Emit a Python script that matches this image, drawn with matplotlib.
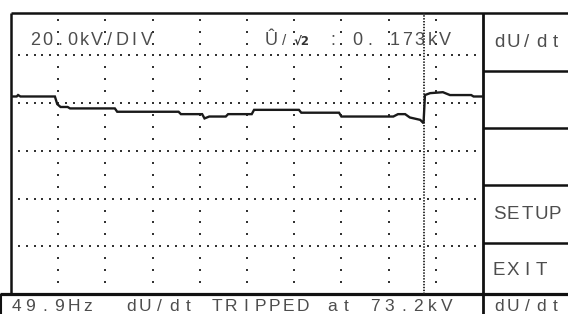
import numpy as np
import matplotlib
matplotlib.use("Agg")
import matplotlib.pyplot as plt

# Trace (x in divisions, y in divisions from the bottom)
trace_x = [0.0, 0.12, 0.15, 0.2, 0.93, 0.98, 1.05, 1.2, 1.25, 2.2, 2.25, 3.55, 3.6,
           4.05, 4.1, 4.2, 4.55, 4.6, 5.1, 5.15, 6.1, 6.15, 6.95, 7.0, 8.1, 8.2,
           8.35, 8.45, 8.67, 8.74, 8.77, 8.88, 9.15, 9.3, 9.75, 9.8, 10.0]
trace_y = [4.14, 4.14, 4.17, 4.14, 4.14, 3.98, 3.92, 3.92, 3.89, 3.89, 3.82, 3.82, 3.77,
           3.77, 3.68, 3.72, 3.72, 3.77, 3.77, 3.86, 3.86, 3.80, 3.80, 3.72, 3.72, 3.77,
           3.77, 3.70, 3.65, 3.58, 4.17, 4.21, 4.23, 4.17, 4.17, 4.14, 4.14]
cursor_x = 8.75

scale_text = "20.0kV/DIV"
rms_value = "0. 173kV"
status_text = "49.9Hz  dU/dt TRIPPED at 73.2kV"
menu_labels = ["dU/dt", "", "", "SETUP", "EXIT"]
bottom_menu = "dU/dt"

TEXT_GREY = "#4d4d4d"
FONT = "Liberation Sans"

W, H = 568, 314
fig = plt.figure(figsize=(W / 100, H / 100), dpi=100)

# full-figure overlay in pixel units for frame and labels
ov = fig.add_axes([0, 0, 1, 1])
ov.set_xlim(0, W)
ov.set_ylim(H, 0)
ov.axis("off")

# scope screen
left, right, top, bottom = 11, 483, 13, 294
ax = fig.add_axes([left / W, (H - bottom) / H, (right - left) / W, (bottom - top) / H])
ax.set_xlim(0, 10)
ax.set_ylim(0, 5.89)
ax.axis("off")

# dotted graticule
vx, vy = np.meshgrid(np.arange(1, 10), np.arange(1, 24) * 0.25)
ax.scatter(vx.ravel(), vy.ravel(), s=2.6, marker="s", color="#333333", linewidths=0)
hx, hy = np.meshgrid(np.arange(1, 60) / 6, np.arange(1, 6))
ax.scatter(hx.ravel(), hy.ravel(), s=2.6, marker="s", color="#333333", linewidths=0)

# trigger cursor
ax.plot([cursor_x, cursor_x], [0, 5.89], color="#222222", lw=1.3,
        linestyle=(0, (0.8, 0.8)))

# waveform
ax.plot(trace_x, trace_y, color="#1a1a1a", lw=1.7, solid_joinstyle="miter")

# frame
lk = dict(color="#111111", solid_capstyle="butt")
ov.plot([left, W], [top, top], lw=1.8, **lk)
ov.plot([left, left], [top, bottom], lw=1.8, **lk)
ov.plot([right, right], [top, H], lw=2.0, **lk)
ov.plot([0, W], [bottom, bottom], lw=2.3, **lk)
ov.plot([1, 1], [bottom, H], lw=1.5, **lk)
for yy in [71, 128, 185, 243]:
    ov.plot([right, W], [yy, yy], lw=1.8, **lk)


def lcd_text(x0, y, s, pitch, size):
    for i, ch in enumerate(s):
        if ch != " ":
            ov.text(x0 + i * pitch, y, ch, ha="center", va="baseline",
                    fontsize=size, color=TEXT_GREY, family=FONT)


# header readouts
lcd_text(35, 45, scale_text, 12.4, 13)
ov.text(271, 45, "Û", ha="center", va="baseline", fontsize=13, color=TEXT_GREY, family=FONT)
ov.text(284, 45, "/", ha="center", va="baseline", fontsize=11, color=TEXT_GREY, family=FONT)
ov.text(302, 45, "√2", ha="center", va="baseline", fontsize=8.5, fontweight="bold",
        color="#333333", family="DejaVu Sans")
ov.text(333, 45, ":", ha="center", va="baseline", fontsize=13, color=TEXT_GREY, family=FONT)
lcd_text(357.8, 45, rms_value, 12.4, 13)

# side menu
menu_base = [47, 0, 0, 219, 275]
for lab, yb in zip(menu_labels, menu_base):
    if lab:
        lcd_text(499, yb, lab, 14, 13.5)

# status bar
lcd_text(16, 311, status_text, 14.35, 12.5)
lcd_text(499, 311, bottom_menu, 14, 12.5)

fig.savefig("out.png", dpi=100, facecolor="white")
